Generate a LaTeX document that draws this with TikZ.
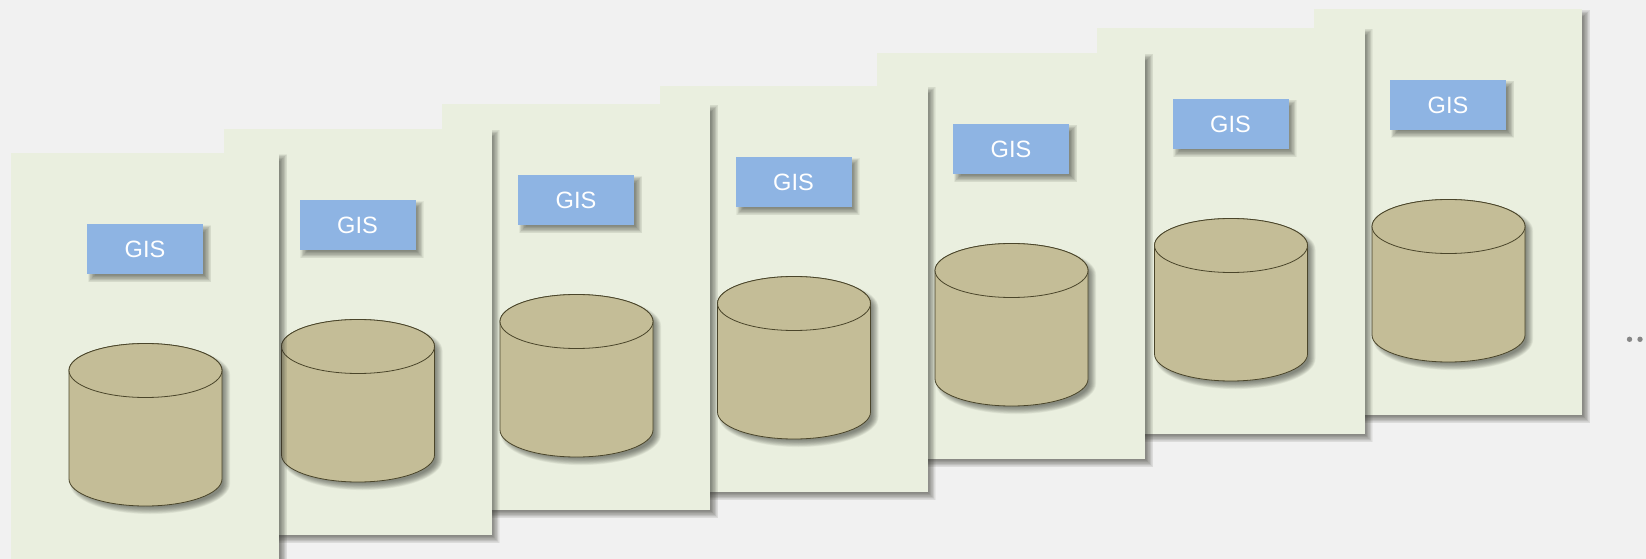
\documentclass[tikz,border=0pt]{standalone}
\usepackage{fontspec}
\setmainfont{Liberation Sans}
\definecolor{pagebg}{HTML}{F1F1F1}
\definecolor{panelc}{HTML}{EAEFDF}
\definecolor{labelc}{HTML}{8EB4E3}
\definecolor{tanc}{HTML}{C4BD97}
\definecolor{tanl}{HTML}{4A452A}
\definecolor{shadc}{HTML}{3A3A34}
\tikzset{
  panelbox/.style={rectangle,fill=panelc,draw=none,inner sep=0pt,outer sep=0pt,minimum width=268pt,minimum height=406pt,anchor=north west},
  labelbox/.style={rectangle,fill=labelc,draw=none,inner sep=0pt,outer sep=0pt,minimum width=116pt,minimum height=50pt,anchor=north west,text=white,font=\fontsize{23.6}{24}\selectfont},
  cylfill/.style={fill=tanc,draw=tanl,line width=0.8pt},
  shadlayer/.style={fill=shadc,draw=none,fill opacity=0.06},
  dotmark/.style={circle,fill=gray!95,draw=none,inner sep=0pt,minimum size=5.4pt}
}
% soft shadow of a rectangle: #1,#2 top-left; #3,#4 size
\newcommand{\softrect}[4]{%
  \foreach \e in {3.6,3,2.4,1.8,1.2,0.6,0,-0.6,-1.2,-1.8,-2.4,-3,-3.6}{%
    \fill[shadlayer] ({#1+4.5-\e},{#2+4.5-\e}) rectangle ({#1+#3+4.5+\e},{#2+#4+4.5+\e});
  }}
% soft shadow of the cylinder: #1,#2 top-left
\newcommand{\softcyl}[2]{%
  \foreach \e in {3.6,3,2.4,1.8,1.2,0.6,0,-0.6,-1.2,-1.8,-2.4,-3,-3.6}{%
    \pgfmathsetmacro{\rxx}{76.5+\e}\pgfmathsetmacro{\ryy}{27+\e}%
    \fill[shadlayer] ({#1+76.5+4.5-\rxx},{#2+27+4.5}) arc[start angle=180,end angle=0,x radius=\rxx,y radius=-\ryy]
      -- ++(0,108.5) arc[start angle=0,end angle=-180,x radius=\rxx,y radius=-\ryy] -- cycle;
  }}
\newcommand{\gispanel}[2]{%
  \softrect{#1}{#2}{268}{406}
  \node[panelbox] (panel#1) at (#1,#2) {};
  \softrect{#1+76}{#2+71}{116}{50}
  \node[labelbox] (gis#1) at ({#1+76},{#2+71}) {\raisebox{-1.5pt}{GIS}};
  \softcyl{#1+58}{#2+190.5}
  \draw[cylfill] ({#1+58},{#2+217.5}) arc[start angle=180,end angle=0,x radius=76.5,y radius=-27]
     -- ++(0,108.5) arc[start angle=0,end angle=-180,x radius=76.5,y radius=-27] -- cycle;
  \draw[cylfill] ({#1+134.5},{#2+217.5}) ellipse[x radius=76.5,y radius=27];
}
\begin{document}
\begin{tikzpicture}[x=1pt,y=-1pt]
\useasboundingbox (0,0) rectangle (1646,559);
\clip (0,0) rectangle (1646,559);
\fill[pagebg] (0,0) rectangle (1646,559);
\gispanel{1314}{9}
\gispanel{1096.5}{28}
\gispanel{877}{53}
\gispanel{659.5}{86}
\gispanel{442}{104}
\gispanel{223.5}{129}
\gispanel{11}{153}
\node[dotmark] (dota) at (1629.5,339.3) {};
\node[dotmark] (dotb) at (1640,339.3) {};
\end{tikzpicture}
\end{document}
